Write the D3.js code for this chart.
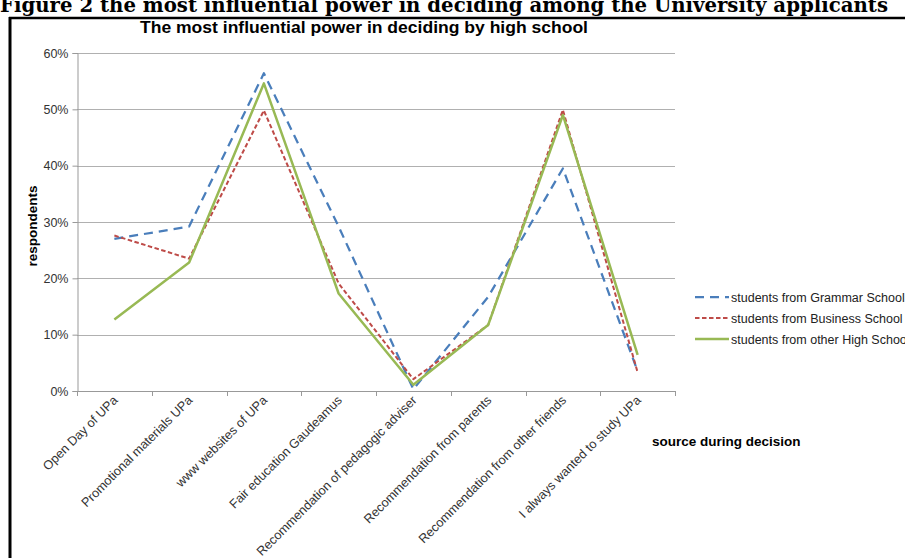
<!DOCTYPE html>
<html>
<head>
<meta charset="utf-8">
<script src="https://cdn.jsdelivr.net/npm/d3@7/dist/d3.min.js"></script>
<style>
  html, body { margin: 0; padding: 0; background: #fff; }
  svg { display: block; }
</style>
</head>
<body>
<svg id="chart" width="905" height="558"></svg>
<script>
const categories = [
  "Open Day of UPa",
  "Promotional materials UPa",
  "www websites of UPa",
  "Fair education Gaudeamus",
  "Recommendation of pedagogic adviser",
  "Recommendation from parents",
  "Recommendation from other friends",
  "I always wanted to study UPa"
];
const grammarSchool = [0.270, 0.292, 0.564, 0.292, 0.003, 0.167, 0.395, 0.035];
const businessSchool = [0.276, 0.235, 0.498, 0.191, 0.021, 0.117, 0.499, 0.033];
const otherHighSchool = [0.127, 0.228, 0.546, 0.173, 0.011, 0.117, 0.490, 0.064];
const seriesNames = ["students from Grammar School", "students from Business School", "students from other High School"];
const yTickValues = [0, 0.1, 0.2, 0.3, 0.4, 0.5, 0.6];

const figureCaption = "Figure 2 the most influential power in deciding among the University applicants";
const chartTitle = "The most influential power in deciding by high school";
const yAxisTitle = "respondents";
const xAxisTitle = "source during decision";

const series = [
  { name: seriesNames[0], values: grammarSchool, color: "#4a7ebb", dash: "9,6", width: 2.25 },
  { name: seriesNames[1], values: businessSchool, color: "#be4b48", dash: "4.5,2.5", width: 2 },
  { name: seriesNames[2], values: otherHighSchool, color: "#98b954", dash: null, width: 2.5 }
];

const svg = d3.select("#chart");
const plotLeft = 77, plotRight = 675, plotTop = 53, plotBottom = 391;
const sans = "Arial, 'Liberation Sans', sans-serif";

const x = d3.scaleBand().domain(categories).range([plotLeft, plotRight]).paddingInner(0).paddingOuter(0);
const y = d3.scaleLinear().domain([0, 0.6]).range([plotBottom, plotTop]);
const cx = c => x(c) + x.bandwidth() / 2;

// figure caption (cut at top edge, as in the reference)
svg.append("text")
  .attr("x", 0).attr("y", 12)
  .attr("font-family", "'DejaVu Serif', 'Liberation Serif', serif")
  .attr("font-weight", "bold")
  .attr("font-size", 20)
  .attr("textLength", 888)
  .attr("lengthAdjust", "spacingAndGlyphs")
  .attr("fill", "#000")
  .text(figureCaption);

// frame
svg.append("line").attr("x1", 9).attr("x2", 905).attr("y1", 18).attr("y2", 18)
  .attr("stroke", "#000").attr("stroke-width", 2.5);
svg.append("line").attr("x1", 10).attr("x2", 10).attr("y1", 17).attr("y2", 558)
  .attr("stroke", "#000").attr("stroke-width", 3);

// title
svg.append("text")
  .attr("x", 364).attr("y", 33)
  .attr("text-anchor", "middle")
  .attr("font-family", sans)
  .attr("font-weight", "bold")
  .attr("font-size", 17)
  .attr("textLength", 448)
  .attr("lengthAdjust", "spacingAndGlyphs")
  .attr("fill", "#000")
  .text(chartTitle);

// gridlines
svg.append("g").selectAll("line")
  .data(yTickValues.filter(v => v > 0))
  .join("line")
  .attr("x1", plotLeft).attr("x2", plotRight)
  .attr("y1", d => Math.round(y(d)) + 0.5).attr("y2", d => Math.round(y(d)) + 0.5)
  .attr("stroke", "#b0b0b0").attr("stroke-width", 1);

// y axis
const yAxis = svg.append("g")
  .attr("transform", `translate(${plotLeft + 0.5},0)`)
  .call(d3.axisLeft(y).tickValues(yTickValues).tickFormat(d3.format(".0%")).tickSize(5).tickPadding(4));
yAxis.select(".domain").attr("stroke", "#999");
yAxis.selectAll(".tick line").attr("stroke", "#999");
yAxis.selectAll(".tick text")
  .attr("font-family", sans)
  .attr("font-size", 12.5).attr("fill", "#333");

// x axis
const xg = svg.append("g");
xg.append("line").attr("x1", plotLeft).attr("x2", plotRight)
  .attr("y1", plotBottom + 0.5).attr("y2", plotBottom + 0.5).attr("stroke", "#999");
const boundaries = categories.map(c => x(c)).concat([x(categories[categories.length - 1]) + x.bandwidth()]);
xg.selectAll("line.tk").data(boundaries).join("line").attr("class", "tk")
  .attr("x1", d => Math.round(d) + 0.5).attr("x2", d => Math.round(d) + 0.5)
  .attr("y1", plotBottom).attr("y2", plotBottom + 5).attr("stroke", "#999");
xg.selectAll("text").data(categories).join("text")
  .attr("transform", c => `translate(${cx(c) + 4},${plotBottom + 10}) rotate(-45)`)
  .attr("text-anchor", "end")
  .attr("font-family", sans)
  .attr("font-size", 12.7).attr("fill", "#333")
  .text(c => c);

// axis titles
svg.append("text")
  .attr("transform", `translate(37,226) rotate(-90)`)
  .attr("text-anchor", "middle")
  .attr("font-family", sans)
  .attr("font-weight", "bold").attr("font-size", 13.5).attr("fill", "#000")
  .text(yAxisTitle);
svg.append("text")
  .attr("x", 652).attr("y", 446)
  .attr("font-family", sans)
  .attr("font-weight", "bold").attr("font-size", 13.5).attr("fill", "#000")
  .text(xAxisTitle);

// lines
const line = d3.line().x((d, i) => cx(categories[i])).y(d => y(d));
svg.append("g").selectAll("path").data(series).join("path")
  .attr("d", s => line(s.values))
  .attr("fill", "none")
  .attr("stroke", s => s.color)
  .attr("stroke-width", s => s.width)
  .attr("stroke-dasharray", s => s.dash)
  .attr("stroke-linejoin", "round");

// legend
const lg = svg.append("g").selectAll("g").data(series).join("g")
  .attr("transform", (s, i) => `translate(695,${297 + i * 21})`);
lg.append("line").attr("x1", 0).attr("x2", 34).attr("y1", 0).attr("y2", 0)
  .attr("stroke", s => s.color).attr("stroke-width", s => s.width)
  .attr("stroke-dasharray", s => s.dash);
lg.append("text").attr("x", 36).attr("y", 4.5)
  .attr("font-family", sans)
  .attr("font-size", 12.5).attr("fill", "#222")
  .text(s => s.name);
</script>
</body>
</html>
